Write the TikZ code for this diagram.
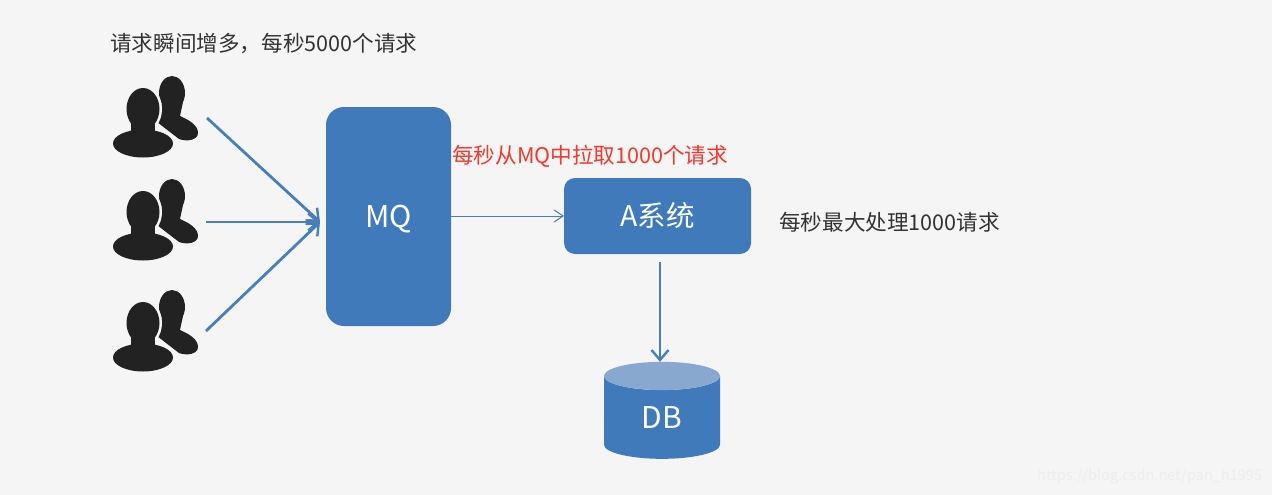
\documentclass[tikz,border=0pt]{standalone}
\usepackage{fontspec}
\setmainfont{Noto Sans CJK SC}
\usetikzlibrary{calc, positioning}
\usetikzlibrary{arrows.meta}
\usetikzlibrary{shapes.geometric}
\definecolor{bgcol}{HTML}{F5F5F5}
\definecolor{boxblue}{HTML}{407ABA}
\definecolor{dbtop}{HTML}{88A8CF}
\definecolor{arrowblue}{HTML}{4A7EBB}
\definecolor{usercol}{HTML}{222222}
\definecolor{pullred}{HTML}{F03A2E}
\tikzset{
  boxnode/.style={fill=boxblue, text=white, inner sep=0pt, outer sep=0pt, rounded corners=#1, font=\fontsize{30}{34}\selectfont},
  flow/.style={arrowblue, line width=2.8pt, -{Straight Barb[length=10pt,width=17pt,line width=2.4pt]}},
  thinflow/.style={arrowblue, line width=1pt, -{Straight Barb[length=9pt,width=12pt,line width=1pt]}},
  note/.style={text=black!80, inner sep=0pt, anchor=west, font=\fontsize{21.6}{26}\selectfont},
  users/.pic={
    \fill[usercol] (29,-29) ellipse (13 and 17);
    \fill[usercol] (19,-20) -- (40,-20) -- (37,-6) .. controls (46,-2) and (55,3) .. (55,11) .. controls (55,18) and (44,20) .. (36,17) -- (14,0) -- cycle;
    \draw[bgcol, line width=4pt, fill=usercol] (0,-13) ellipse (17 and 22);
    \draw[bgcol, line width=4pt, fill=usercol] (0,22) ellipse (31 and 15);
    \fill[usercol] (0,-13) ellipse (16.5 and 21);
    \fill[usercol] (-12,0) rectangle (12,14);
    \fill[usercol] (0,21.5) ellipse (30 and 14);
  }
}
\begin{document}
\begin{tikzpicture}[x=1pt,y=-1pt]
\useasboundingbox (0,0) rectangle (1272,495);
\fill[bgcol] (0,0) rectangle (1272,495);
\foreach \ypos in {122,225,336}{
  \pic at (143,\ypos) {users};
}
\coordinate (U1) at (207,118);
\coordinate (U2) at (206,222);
\coordinate (U3) at (206,331);
\coordinate (MQin) at (320,222);
\node[boxnode=18pt, minimum width=125pt, minimum height=219pt, text height=22pt, text depth=0pt] (MQ) at (388.5,216.5) {MQ};
\node[boxnode=11pt, minimum width=187pt, minimum height=76pt, font=\fontsize{28.5}{32}\selectfont] (A) at (657.5,216) {A系统};
\node[shape=cylinder, shape border rotate=90, aspect=0.7, cylinder uses custom fill, cylinder body fill=boxblue, cylinder end fill=dbtop, inner sep=0pt, outer sep=0pt, text=white, minimum width=116pt, minimum height=97pt, font=\fontsize{30}{34}\selectfont] (DB) at (662,417.5) {DB};
\draw[flow] (U1) -- (MQin);
\draw[flow] (U2) -- (MQin);
\draw[flow] (U3) -- (MQin);
\draw[thinflow] (MQ.east |- 0,216) -- (A.west |- 0,216);
\draw[flow, shorten <=8pt] (A.south -| 660,0) -- (DB.north -| 660,0);
\node[note] (burst) at (110,44) {请求瞬间增多，每秒5000个请求};
\node[note, text=pullred] (pull) at (452,156) {每秒从MQ中拉取1000个请求};
\node[note] (limit) at (779,222) {每秒最大处理1000请求};
\node[inner sep=0pt, anchor=west, text=black!7, font=\fontsize{14.6}{18}\selectfont] (mark) at (1037,477) {https://blog.csdn.net/pan\_h1995};
\end{tikzpicture}
\end{document}
